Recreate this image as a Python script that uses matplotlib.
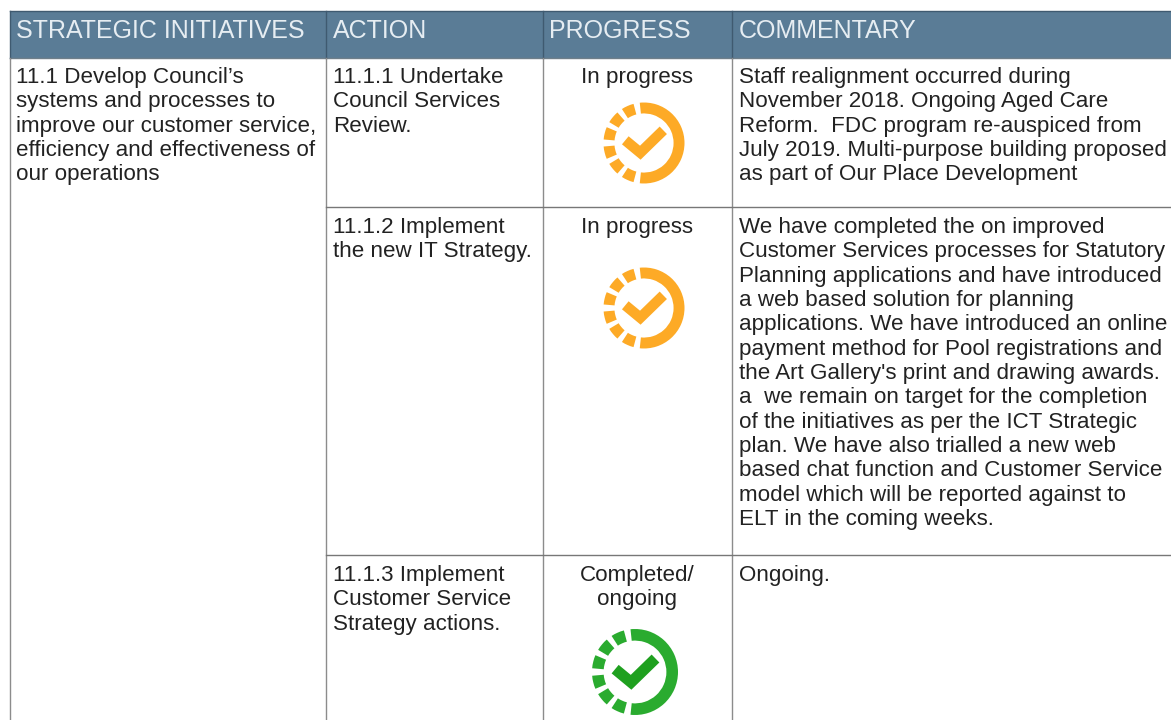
import matplotlib
matplotlib.use("Agg")
import matplotlib.pyplot as plt
from matplotlib.patches import Rectangle, Wedge

plt.rcParams['font.family'] = ['Liberation Sans', 'DejaVu Sans']

headers = ["STRATEGIC INITIATIVES", "ACTION", "PROGRESS", "COMMENTARY"]
header_x = [16, 333, 549, 739]

initiative = ["11.1 Develop Council’s", "systems and processes to",
              "improve our customer service,", "efficiency and effectiveness of",
              "our operations"]

actions = [
    ["11.1.1 Undertake", "Council Services", "Review."],
    ["11.1.2 Implement", "the new IT Strategy."],
    ["11.1.3 Implement", "Customer Service", "Strategy actions."],
]
progress = [["In progress"], ["In progress"], ["Completed/", "ongoing"]]
commentary = [
    ["Staff realignment occurred during", "November 2018. Ongoing Aged Care",
     "Reform.  FDC program re-auspiced from", "July 2019. Multi-purpose building proposed",
     "as part of Our Place Development"],
    ["We have completed the on improved", "Customer Services processes for Statutory",
     "Planning applications and have introduced", "a web based solution for planning",
     "applications. We have introduced an online", "payment method for Pool registrations and",
     "the Art Gallery's print and drawing awards.", "a  we remain on target for the completion",
     "of the initiatives as per the ICT Strategic", "plan. We have also trialled a new web",
     "based chat function and Customer Service", "model which will be reported against to",
     "ELT in the coming weeks."],
    ["Ongoing."],
]

row_top = [58, 207, 555]
first_line = [83, 233, 581]
icon_centre = [(644, 143), (644, 308), (635, 672)]
icon_radius = [40.5, 40.5, 43]
icon_colour = ["#fdaa26", "#fdaa26", "#2aab2f"]
tick_colour = ["#fdaa26", "#fdaa26", "#1fa01f"]

col_lines = [10, 326, 543, 732]
line_gap = 24.35
font_px = 22.4
fs = font_px * 72 / 100

fig = plt.figure(figsize=(11.71, 7.2), dpi=100)
ax = fig.add_axes([0, 0, 1, 1])
ax.set_xlim(0, 1171)
ax.set_ylim(720, 0)
ax.axis("off")

# header band
ax.add_patch(Rectangle((10, 11), 1161, 47, fc="#5a7c96", ec="none", zorder=1))
ax.plot([10, 1171], [11, 11], color="#3f5a70", lw=1.0, zorder=2)
ax.plot([10, 1171], [58, 58], color="#6f7f8a", lw=1.0, zorder=2)
for x in col_lines:
    ax.plot([x, x], [11, 58], color="#3f5a70", lw=1.0, zorder=2)
    ax.plot([x, x], [58, 720], color="#8c8c8c", lw=1.0, zorder=2)
for y in row_top[1:]:
    ax.plot([326, 1171], [y, y], color="#777777", lw=1.0, zorder=2)

for label, x in zip(headers, header_x):
    ax.text(x, 38.5, label, color="#e6edf2", fontsize=18.0, va="baseline", ha="left")


def draw_lines(lines, x, y, ha="left"):
    for i, line in enumerate(lines):
        ax.text(x, y + i * line_gap, line, color="#222222", fontsize=fs, va="baseline", ha=ha)


def draw_icon(cx, cy, r, colour, tick):
    w = r * 0.27
    ax.add_patch(Wedge((cx, cy), r, -96, 96, width=w, fc=colour, ec="none", zorder=3))
    for ang in [114, 140, 166, 194, 220, 246]:
        ax.add_patch(Wedge((cx, cy), r, ang - 9, ang + 9, width=w, fc=colour, ec="none", zorder=3))
    s = r / 40.5
    ax.plot([cx - 18.7 * s, cx - 3.7 * s, cx + 19.3 * s], [cy - 2.7 * s, cy + 9.7 * s, cy - 12.7 * s],
            color=tick, lw=7.5 * s, solid_joinstyle="miter", solid_capstyle="butt", zorder=4)


draw_lines(initiative, 16, 83)
for i in range(3):
    draw_lines(actions[i], 333, first_line[i])
    draw_lines(progress[i], 637, first_line[i], ha="center")
    draw_lines(commentary[i], 739, first_line[i])
    draw_icon(icon_centre[i][0], icon_centre[i][1], icon_radius[i], icon_colour[i], tick_colour[i])

fig.savefig("out.png", dpi=100)
